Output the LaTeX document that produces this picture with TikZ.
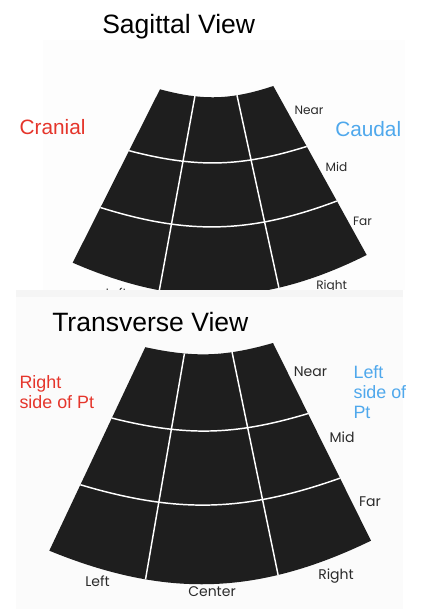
\documentclass[tikz,border=0pt]{standalone}
\definecolor{ScanBlack}{HTML}{1E1E1E}
\definecolor{ScanInk}{HTML}{2B2B2B}
\definecolor{CranialRed}{HTML}{E5352B}
\definecolor{CaudalBlue}{HTML}{4FA8EC}
\usepackage{fontspec}
\setmainfont{Liberation Sans}
\newfontfamily\scanfont{Poppins}
\usepackage{tikz}
\usetikzlibrary{positioning,calc}
\tikzset{
    % dark sector of the probe
    fanfill/.style={
        fill=ScanBlack
    },
    gridline/.style={
        draw=white,
        line width=1.1pt
    },
    viewtitle/.style={
        inner sep=0pt,
        anchor=base west,
        font=\fontsize{19.9}{24}\selectfont
    },
    sidelabel/.style={
        inner sep=0pt,
        align=left,
        font=\fontsize{15.6}{18}\selectfont
    },
    depthlabel/.style={
        inner sep=0pt,
        anchor=base,
        text=ScanInk,
        font=\scanfont\fontsize{10.5}{12}\selectfont
    }
}

\begin{document}
\begin{tikzpicture}[
        x=0.75pt, y=0.75pt,
        sagdepth/.style={depthlabel, font=\scanfont\fontsize{9.1}{11}\selectfont},
        ptlabel/.style={sidelabel, anchor=north west, font=\fontsize{13.4}{15.2}\selectfont}
    ]
    \useasboundingbox (0,0) rectangle (425,-609);

    % scanned backgrounds
    \fill[black!0.7] (43,-40) rectangle (405,-289.5);
    \fill[black!1.5] (16,-289.5) rectangle (403,-609);
    \fill[black!4] (16,-289.5) rectangle (403,-297);

    %% Sagittal view
    \node[viewtitle] (sagtitle) at (102,-33.3) {Sagittal View};

    \begin{scope}
        \clip (0,0) rectangle (425,-289.5);
        \coordinate (s-tl) at (160,-89.3);
        \coordinate (s-tr) at (273.3,-86);
        \coordinate (s-bl) at (72.7,-262.7);
        \coordinate (s-br) at (366.7,-255);
        \coordinate (s-n1) at (195,-95.7);
        \coordinate (s-f1) at (160,-286.7);
        \coordinate (s-n2) at (236.7,-94);
        \coordinate (s-f2) at (278.3,-285);
        \begin{scope}
            \clip (s-tl) to[bend right=16.7] (s-tr) -- (s-br)
                to[bend left=25] (s-bl) -- cycle;
            \fill[fanfill] (0,0) rectangle (425,-300);
            % rows
            \draw[gridline] ($(s-tl)!0.35!(s-bl) + (-3,0)$) to[bend right=16.3]
                ($(s-tr)!0.353!(s-br) + (3,0)$);
            \draw[gridline] ($(s-tl)!0.677!(s-bl) + (-3,0)$) to[bend right=19.3]
                ($(s-tr)!0.675!(s-br) + (3,0)$);
            % columns
            \foreach \i in {1,2}
                \draw[gridline] ($(s-n\i)!-0.1!(s-f\i)$) -- ($(s-f\i)!-0.1!(s-n\i)$);
        \end{scope}
        \node[sagdepth] (s-right) at (331.7,-289.5) {Right};
        \node[sagdepth] (s-left) at (116.5,-297.5) {Left};
    \end{scope}

    \node[sagdepth] (s-near) at (309,-115) {Near};
    \node[sagdepth] (s-mid) at (336.5,-172) {Mid};
    \node[sagdepth] (s-far) at (362.5,-226) {Far};

    \node[sidelabel, anchor=base west, text=CranialRed] (cranial) at (19.3,-134.3) {Cranial};
    \node[sidelabel, anchor=base west, text=CaudalBlue] (caudal) at (335,-137) {Caudal};

    %% Transverse view
    \node[viewtitle] (transtitle) at (52,-331.7) {Transverse View};

    \coordinate (t-tl) at (145.3,-347.2);
    \coordinate (t-tr) at (273,-343);
    \coordinate (t-bl) at (49.3,-550.7);
    \coordinate (t-br) at (371,-540.7);
    \coordinate (t-n1) at (184.3,-354.3);
    \coordinate (t-f1) at (145.7,-578.3);
    \coordinate (t-n2) at (232.3,-353.3);
    \coordinate (t-f2) at (278.3,-576);
    \begin{scope}
        \clip (t-tl) to[bend right=14.1] (t-tr) -- (t-br)
            to[bend left=24] (t-bl) -- cycle;
        \fill[fanfill] (0,-300) rectangle (425,-609);
        % rows
        \draw[gridline] ($(t-tl)!0.345!(t-bl) + (-3,0)$) to[bend right=15.6]
            ($(t-tr)!0.353!(t-br) + (3,0)$);
        \draw[gridline] ($(t-tl)!0.672!(t-bl) + (-3,0)$) to[bend right=18.3]
            ($(t-tr)!0.679!(t-br) + (3,0)$);
        % columns
        \foreach \i in {1,2}
            \draw[gridline] ($(t-n\i)!-0.1!(t-f\i)$) -- ($(t-f\i)!-0.1!(t-n\i)$);
    \end{scope}

    \node[depthlabel] (t-near) at (310.5,-376) {Near};
    \node[depthlabel] (t-mid) at (342,-442.7) {Mid};
    \node[depthlabel] (t-far) at (370,-506) {Far};
    \node[depthlabel] (t-left) at (97.5,-586.7) {Left};
    \node[depthlabel] (t-center) at (212,-596.7) {Center};
    \node[depthlabel] (t-right) at (336,-579) {Right};

    \node[ptlabel, text=CranialRed] (rightpt) at (19.3,-375) {Right\\side of Pt};
    \node[ptlabel, text=CaudalBlue] (leftpt) at (353.3,-365) {Left\\side of\\Pt};
\end{tikzpicture}
\end{document}
